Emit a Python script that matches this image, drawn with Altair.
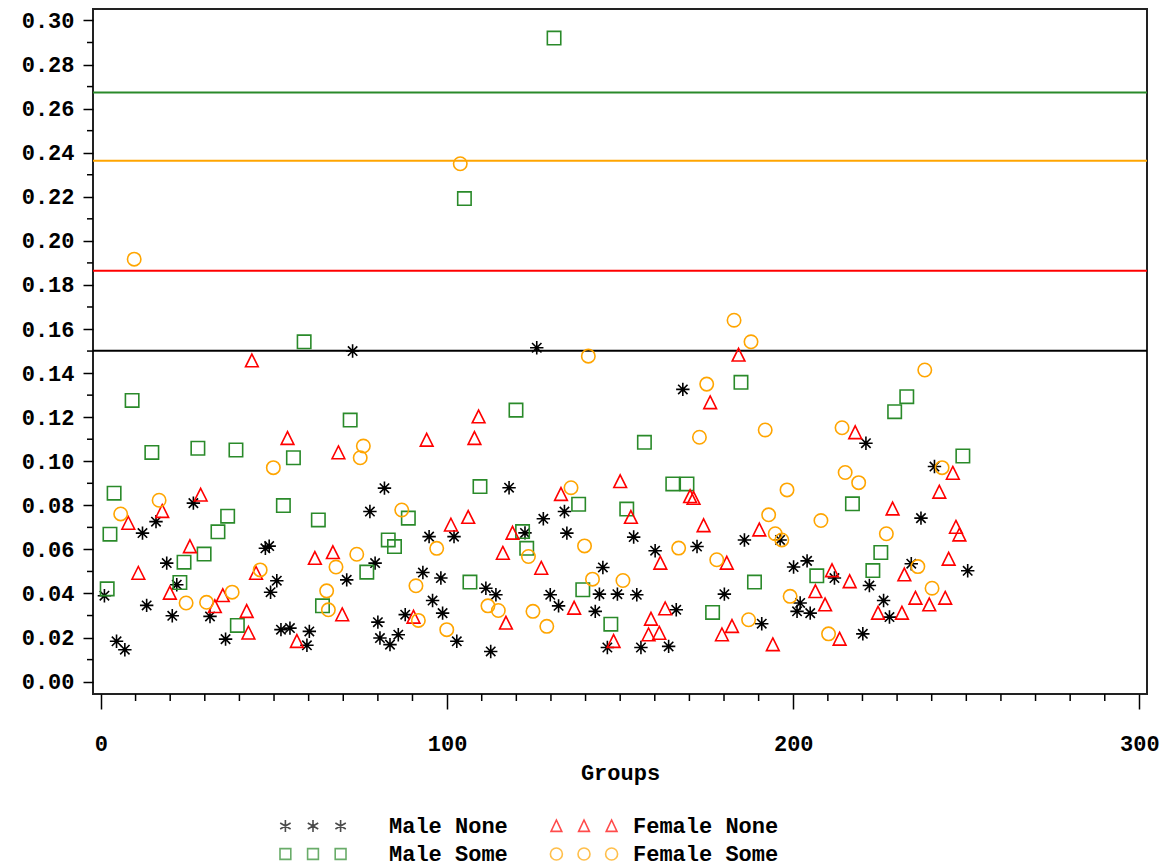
import altair as alt
import pandas as pd

# ---------------- data ----------------
series_names = ["Male None", "Male Some", "Female None", "Female Some"]
series_colors = ["#000000", "#2a8a2a", "#ff0000", "#ffa500"]

mn_x = [26.7, 15.9, 12.0, 47.5, 48.6, 19.0, 50.8, 49.0, 21.9, 1.0, 13.2, 20.6, 31.5, 36.0, 4.5, 6.9, 52.0, 54.6,
        72.7, 125.9, 81.9, 117.9, 77.7, 127.8, 133.9, 134.6, 94.8, 102.0, 122.5, 79.2, 71.0, 93.0, 98.2, 111.2,
        114.1, 129.8, 132.2, 142.8, 80.0, 80.6, 83.5, 85.9, 87.9, 95.8, 98.7, 102.8, 112.6, 60.2, 59.5,
        168.1, 221.0, 196.2, 185.9, 153.9, 160.1, 172.2, 222.0, 145.0, 144.0, 149.2, 154.8, 146.3, 156.0, 164.0,
        166.2, 180.1, 190.9, 202.0, 201.1, 204.9, 200.1, 204.0, 211.9, 220.1, 226.1, 227.8,
        240.8, 236.9, 234.1, 250.4]
mn_y = [0.081, 0.0726, 0.0674, 0.0605, 0.0615, 0.0538, 0.0458, 0.0406, 0.044, 0.039, 0.0346, 0.0299, 0.0296, 0.0193, 0.0183, 0.0145, 0.0236, 0.0243,
        0.150, 0.1515, 0.0878, 0.088, 0.0772, 0.0739, 0.0772, 0.0674, 0.0658, 0.0658, 0.0675, 0.0538, 0.0462, 0.0495, 0.047, 0.0424,
        0.0394, 0.0394, 0.0344, 0.0319, 0.027, 0.0198, 0.0168, 0.0213, 0.0304, 0.0368, 0.0311, 0.0183, 0.0137, 0.0228, 0.0165,
        0.1326, 0.1082, 0.0643, 0.0643, 0.0656, 0.0594, 0.0613, 0.0436, 0.0518, 0.0397, 0.0397, 0.0394, 0.0155, 0.0155, 0.016,
        0.0326, 0.0397, 0.0263, 0.0357, 0.0319, 0.0311, 0.052, 0.0548, 0.047, 0.0217, 0.0368, 0.0293,
        0.0976, 0.0742, 0.0535, 0.0503]

ms_x = [9.0, 14.7, 28.0, 39.0, 55.6, 3.8, 52.7, 36.6, 33.8, 2.6, 29.8, 24.0, 22.8, 1.8, 39.4,
        58.7, 119.9, 72.0, 109.5, 138.0, 88.8, 62.8, 83.0, 84.8, 121.8, 123.0, 76.8, 106.6, 139.2, 64.0,
        184.9, 157.0, 229.3, 165.2, 169.3, 217.1, 151.9, 225.3, 223.0, 147.3, 188.8, 176.7, 206.8,
        232.8, 249.0, 130.9, 105.0]
ms_y = [0.1276, 0.104, 0.1059, 0.1051, 0.1016, 0.0855, 0.0799, 0.0751, 0.068, 0.0669, 0.0579, 0.0542, 0.045, 0.0421, 0.0255,
        0.1542, 0.1232, 0.1187, 0.0885, 0.0805, 0.0742, 0.0734, 0.0643, 0.0613, 0.0681, 0.0605, 0.0497, 0.0452, 0.0417, 0.0344,
        0.1358, 0.1086, 0.1225, 0.0897, 0.0897, 0.0807, 0.0783, 0.0586, 0.0504, 0.0261, 0.0452, 0.0314, 0.048,
        0.1293, 0.1024, 0.292, 0.2192]

fn_x = [43.6, 53.9, 17.7, 28.8, 7.9, 25.7, 10.8, 44.8, 19.9, 32.9, 35.2, 42.1, 42.6, 56.6,
        109.1, 107.9, 94.1, 68.6, 132.9, 106.1, 101.1, 118.9, 116.1, 127.2, 61.8, 67.0, 136.7, 69.7, 90.3, 117.0,
        184.2, 176.0, 217.9, 150.0, 170.2, 171.2, 228.7, 153.1, 174.1, 190.2, 161.6, 180.8, 148.1, 158.9, 158.2,
        161.3, 163.0, 179.4, 182.3, 194.1, 206.4, 209.2, 211.2, 216.3, 213.4, 224.5,
        246.1, 242.2, 247.0, 248.0, 244.9, 232.1, 235.3, 239.3, 243.9, 231.4]
fn_y = [0.1456, 0.1104, 0.0773, 0.0847, 0.0719, 0.0613, 0.0492, 0.0492, 0.0402, 0.0341, 0.0391, 0.0319, 0.0221, 0.0183,
        0.1202, 0.1104, 0.1096, 0.1039, 0.085, 0.0746, 0.0711, 0.0674, 0.0583, 0.0515, 0.056, 0.0586, 0.0334, 0.0304, 0.0293, 0.0266,
        0.1482, 0.1266, 0.113, 0.0908, 0.084, 0.0832, 0.0784, 0.0746, 0.0708, 0.0689, 0.0538, 0.0538, 0.0183, 0.0284, 0.0213,
        0.022, 0.0331, 0.0213, 0.0251, 0.0168, 0.0409, 0.0349, 0.0504, 0.0454, 0.0193, 0.0311,
        0.0946, 0.086, 0.0701, 0.0666, 0.0556, 0.0485, 0.0379, 0.0349, 0.0379, 0.0311]

fs_x = [9.6, 49.8, 16.8, 5.7, 46.0, 24.6, 30.5, 37.9,
        140.8, 75.8, 74.9, 135.8, 86.9, 123.5, 139.7, 97.0, 73.9, 67.9, 91.0, 142.0, 65.7, 65.2, 91.7, 99.9,
        111.8, 114.8, 124.8, 128.8,
        187.8, 175.0, 191.9, 172.9, 214.1, 215.0, 218.9, 198.2, 192.9, 208.0, 226.9, 194.8, 196.7, 166.9, 177.9,
        150.8, 187.1, 199.1, 210.2,
        238.0, 243.0, 236.0, 240.1, 103.8, 182.9]
fs_y = [0.1917, 0.0971, 0.0823, 0.0761, 0.0507, 0.0357, 0.036, 0.0406,
        0.1477, 0.1069, 0.1016, 0.088, 0.0779, 0.0568, 0.0616, 0.0605, 0.0578, 0.052, 0.0435, 0.0465, 0.0326, 0.0412, 0.0278, 0.0236,
        0.0344, 0.0323, 0.0319, 0.0251,
        0.1542, 0.135, 0.1142, 0.1109, 0.1152, 0.0949, 0.0903, 0.087, 0.0757, 0.0731, 0.0671, 0.0671, 0.0643, 0.0606, 0.0553,
        0.0459, 0.0281, 0.0387, 0.0217,
        0.1414, 0.0971, 0.0522, 0.0424, 0.235, 0.164]

ref_values = [0.2673, 0.2363, 0.1864, 0.1501]
ref_colors = ["#2a8a2a", "#ffa500", "#ff0000", "#000000"]

y_ticks = [0.00, 0.02, 0.04, 0.06, 0.08, 0.10, 0.12, 0.14, 0.16, 0.18, 0.20, 0.22, 0.24, 0.26, 0.28, 0.30]
y_minor = [0.01, 0.03, 0.05, 0.07, 0.09, 0.11, 0.13, 0.15, 0.17, 0.19, 0.21, 0.23, 0.25, 0.27, 0.29]
x_ticks = [0, 100, 200, 300]
x_minor = [v for v in range(10, 300, 10) if v % 100 != 0]

# ---------------- tables ----------------
rows = []
for name, xs, ys in [("Male None", mn_x, mn_y), ("Male Some", ms_x, ms_y),
                     ("Female None", fn_x, fn_y), ("Female Some", fs_x, fs_y)]:
    for a, b in zip(xs, ys):
        rows.append({"group": a, "value": b, "series": name})
df = pd.DataFrame(rows)
df_ref = pd.DataFrame({"value": ref_values, "color": ref_colors})
df_yminor = pd.DataFrame({"value": y_minor})
df_xminor = pd.DataFrame({"group": x_minor})

FONT = "Liberation Mono"
FS = 22
W, H = 1054, 685
xscale = alt.Scale(domain=[-2.3, 302.2], nice=False, zero=False)
yscale = alt.Scale(domain=[-0.0056, 0.3052], nice=False, zero=False)

x_axis = alt.Axis(values=x_ticks, tickSize=15, tickWidth=1.5, tickColor="#000",
                  domain=False, grid=False, labelFont=FONT, labelFontSize=FS,
                  labelFontWeight="bold", labelColor="#000", labelPadding=24,
                  titleFont=FONT, titleFontSize=FS, titleFontWeight="bold",
                  titleColor="#000", titlePadding=8)
y_axis = alt.Axis(values=y_ticks, format=".2f", tickSize=10, tickWidth=1.5, tickColor="#000",
                  domain=False, grid=False, labelFont=FONT, labelFontSize=FS,
                  labelFontWeight="bold", labelColor="#000", labelPadding=9)


def X(field="group:Q"):
    return alt.X(field, scale=xscale, title="Groups", axis=x_axis)


def Y(field="value:Q"):
    return alt.Y(field, scale=yscale, title=None, axis=y_axis)


STAR = "M0,-1L0,1M-1,0L1,0M-0.7,-0.7L0.7,0.7M-0.7,0.7L0.7,-0.7"
TRI = "M0,-1L0.95,0.9L-0.95,0.9Z"

SP = 4.6


def triple(fn):
    return "".join(fn(cx) for cx in (-SP, 0, SP))


T_STAR = triple(lambda c: f"M{c:.2f},-1L{c:.2f},1M{c-0.87:.2f},-0.5L{c+0.87:.2f},0.5M{c-0.87:.2f},0.5L{c+0.87:.2f},-0.5")
T_SQ = triple(lambda c: f"M{c-0.9:.2f},-0.9L{c+0.9:.2f},-0.9L{c+0.9:.2f},0.9L{c-0.9:.2f},0.9Z")
T_TRI = triple(lambda c: f"M{c:.2f},-1L{c+0.9:.2f},0.9L{c-0.9:.2f},0.9Z")
T_CIR = triple(lambda c: f"M{c+1:.2f},0A1,1 0 1,1 {c-1:.2f},0A1,1 0 1,1 {c+1:.2f},0Z")

# ---------------- layers ----------------
refs = alt.Chart(df_ref).mark_rule(strokeWidth=2).encode(
    y=Y(),
    color=alt.Color("color:N", scale=None),
)

ymin = alt.Chart(df_yminor).mark_rule(color="#000", strokeWidth=1.5).encode(
    y=Y(), x=alt.value(-6), x2=alt.value(0),
)
xmin = alt.Chart(df_xminor).mark_rule(color="#000", strokeWidth=1.5).encode(
    x=X(), y=alt.value(H), y2=alt.value(H + 7),
)

points = alt.Chart(df).mark_point(filled=False, strokeWidth=1.6, opacity=1).encode(
    x=X(), y=Y(),
    shape=alt.Shape("series:N", legend=None,
                    scale=alt.Scale(domain=series_names, range=[STAR, "square", TRI, "circle"])),
    color=alt.Color("series:N", legend=None,
                    scale=alt.Scale(domain=series_names, range=series_colors)),
    size=alt.Size("series:N", legend=None,
                  scale=alt.Scale(domain=series_names, range=[180, 180, 180, 160])),
)


def legend_layer(names, shapes, colors, lx, label_offset):
    leg = dict(title=None, orient="none", legendX=lx, legendY=806, padding=0,
               symbolSize=144, symbolStrokeWidth=1.6, labelFont=FONT, labelFontSize=FS,
               labelFontWeight="bold", labelColor="#000", labelOffset=label_offset,
               rowPadding=6)
    return alt.Chart(df).transform_filter("false").mark_point(filled=False, strokeWidth=1.6).encode(
        shape=alt.Shape("series:N", scale=alt.Scale(domain=names, range=shapes), legend=alt.Legend(**leg)),
        color=alt.Color("series:N", scale=alt.Scale(domain=names, range=colors), legend=alt.Legend(**leg)),
    )


leg_m = legend_layer(["Male None", "Male Some"], [T_STAR, T_SQ], ["#000000", "#2a8a2a"], 209, 65)
leg_f = legend_layer(["Female None", "Female Some"], [T_TRI, T_CIR], ["#ff0000", "#ffa500"], 480, 38)

chart = alt.layer(refs, ymin, xmin, points, leg_m, leg_f).resolve_scale(
    shape="independent", color="independent", size="independent"
).resolve_legend(shape="independent", color="independent").properties(
    width=W, height=H,
    autosize=alt.AutoSizeParams(type="none"),
    padding={"left": 93, "top": 9, "right": 26, "bottom": 173},
    background="white",
).configure_view(stroke="#222", strokeWidth=2)

chart.save("out.html", embed_options={"renderer": "svg", "actions": False})
